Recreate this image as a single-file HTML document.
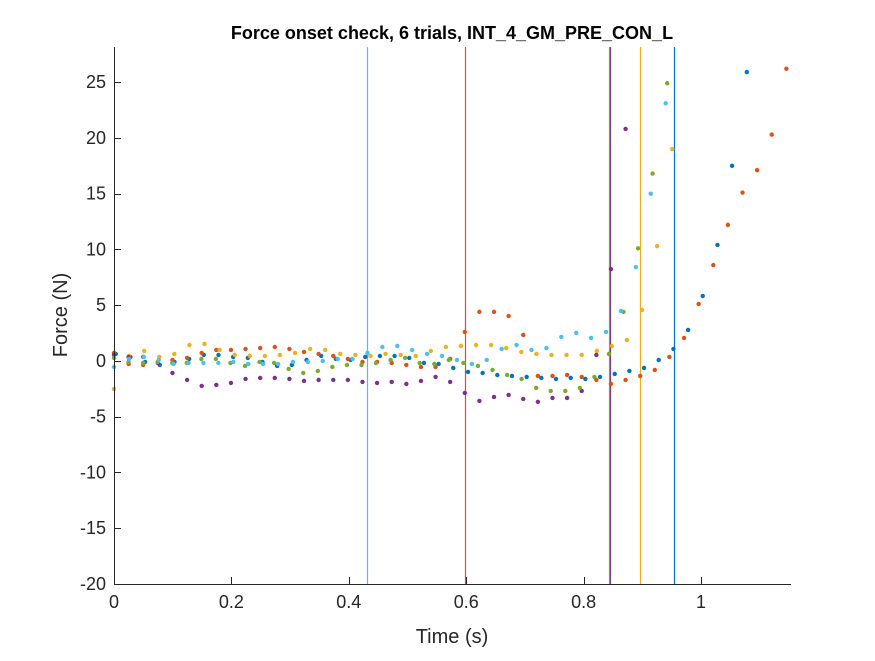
<!DOCTYPE html>
<html><head><meta charset="utf-8"><style>
body{margin:0;background:#fff;}
svg text{font-family:"Liberation Sans",Arial,sans-serif;fill:#262626;}
</style></head><body>
<svg id="chart" width="875" height="656" xmlns="http://www.w3.org/2000/svg">
<rect width="875" height="656" fill="#fff"/>
<text x="452" y="39" text-anchor="middle" font-size="18" font-weight="bold" style="fill:#000">Force onset check, 6 trials, INT_4_GM_PRE_CON_L</text>
<g id="lines"></g><g id="dots"></g><g id="axes"></g>
<text x="452" y="643" text-anchor="middle" font-size="20">Time (s)</text>
<text transform="translate(67,315) rotate(-90)" text-anchor="middle" font-size="20">Force (N)</text>
</svg>
<script>
const xTicks=[0,0.2,0.4,0.6,0.8,1];
const xTickLabels=["0","0.2","0.4","0.6","0.8","1"];
const yTicks=[-20,-15,-10,-5,0,5,10,15,20,25];
const yTickLabels=["-20","-15","-10","-5","0","5","10","15","20","25"];
const seriesNames=["blue","red","yellow","purple","green","cyan"];
const seriesColors=["#0072BD","#D95319","#EDB120","#7E2F8E","#77AC30","#4DBEEE"];
const seriesT0=[0.003,0,0,0,0,0];
const seriesDt=[0.025,0.0249,0.0257,0.0249,0.0248,0.0254];
const blueVals=[0.63,0.36,-0.09,-0.36,-0.09,0.18,0.54,0.54,0.36,0.27,-0.09,-0.45,-0.36,0.09,0.45,0.18,0.09,0.36,0.45,0.45,0.27,-0.18,-0.27,-0.63,-0.99,-1.08,-1.26,-1.34,-1.43,-1.52,-1.61,-1.52,-1.61,-1.43,-1.16,-0.9,-0.63,0.09,1.08,2.78,5.83,10.4,17.5,25.9];
const redVals=[0.72,-0.27,-0.36,-0.09,0.09,0.27,0.72,0.99,0.99,1.08,1.16,1.25,1.08,0.81,0.63,0.45,0.18,-0.09,-0.09,-0.18,-0.36,-0.54,-0.54,0.18,2.6,4.4,4.4,4.03,2.33,-1.34,-1.34,-1.25,-1.43,-1.7,-2.06,-1.7,-1.34,-0.81,0.36,2.06,5.11,8.6,12.2,15.1,17.1,20.3,26.2];
const yellowVals=[-2.51,0.45,0.9,0.36,0.63,1.43,1.52,0.99,0.54,0.45,0.45,0.54,0.72,1.08,0.99,0.63,0.54,0.45,0.63,0.54,0.45,0.9,1.25,1.34,1.43,1.43,1.16,0.81,0.63,0.54,0.54,0.54,0.9,1.34,1.88,4.57,10.3,19.0];
const purpleVals=[0.54,0.36,0.36,-0.18,-1.08,-1.7,-2.24,-2.15,-1.97,-1.61,-1.52,-1.52,-1.61,-1.79,-1.7,-1.7,-1.7,-1.88,-1.97,-1.88,-2.06,-1.79,-1.43,-1.88,-2.87,-3.59,-3.23,-3.05,-3.41,-3.67,-3.32,-3.32,-2.69,0.54,8.24,20.8];
const greenVals=[0.27,-0.09,-0.18,-0.09,-0.18,-0.18,0.18,0.18,-0.18,-0.45,-0.09,-0.18,-0.72,-1.08,-0.9,-0.54,-0.36,-0.36,-0.18,0.09,0.27,-0.18,-0.27,0.09,-0.18,-0.45,-0.81,-1.25,-1.61,-2.42,-2.69,-2.69,-2.42,-1.43,0.63,4.4,10.1,16.8,24.9];
const cyanVals=[-0.54,0.18,0.36,0.09,-0.27,-0.18,-0.18,-0.18,-0.09,-0.27,-0.27,-0.27,-0.09,-0.09,0,0.18,0.18,0.72,1.25,1.34,0.99,0.63,0.45,0.09,-0.27,0.09,1.08,1.43,0.99,1.16,2.15,2.51,2.06,2.6,4.48,8.42,15.0,23.1];
const seriesVals=[blueVals,redVals,yellowVals,purpleVals,greenVals,cyanVals];
const onsetTimes=[0.954,0.598,0.896,0.845,0.843,0.431];
const xMin=0,xMax=1.1533,yMin=-20,yMax=28.15;
const L=114,R=791,T=47,B=584;
const NS="http://www.w3.org/2000/svg";
function sx(v){return L+(v-xMin)/(xMax-xMin)*(R-L);}
function sy(v){return B-(v-yMin)/(yMax-yMin)*(B-T);}
function mk(tag,attrs,parent){const e=document.createElementNS(NS,tag);for(const k in attrs)e.setAttribute(k,attrs[k]);parent.appendChild(e);return e;}
const gL=document.getElementById('lines'),gD=document.getElementById('dots'),gA=document.getElementById('axes');
onsetTimes.forEach((t,i)=>{
  const x=Math.round(sx(t))+0.5;
  const ln=mk('line',{x1:x,x2:x,y1:T,y2:B,stroke:seriesColors[i],'stroke-width':1.2},gL);
  
  
});
seriesVals.forEach((vals,i)=>{
  const g=mk('g',{},gD);
  
  
  vals.forEach((v,k)=>{
    const t=seriesT0[i]+k*seriesDt[i];
    if(t>xMax||v>yMax)return;
    const c=mk('circle',{cx:sx(t),cy:sy(v),r:2.2,fill:seriesColors[i]},g);
    
    
  });
});
const xa=mk('line',{x1:L,x2:R,y1:B+0.5,y2:B+0.5,stroke:'#262626','stroke-width':1},gA);


const ya=mk('line',{x1:L+0.5,x2:L+0.5,y1:T,y2:B,stroke:'#262626','stroke-width':1},gA);


xTicks.forEach((v,i)=>{
  const x=Math.round(sx(v))+0.5;
  const tk=mk('line',{x1:x,x2:x,y1:B,y2:B-7,stroke:'#262626'},gA);
  
  
  const tx=mk('text',{x:sx(v),y:B+24,'text-anchor':'middle','font-size':18},gA);
  tx.textContent=xTickLabels[i];
  
  
});
yTicks.forEach((v,i)=>{
  const y=Math.round(sy(v))+0.5;
  const tk=mk('line',{x1:L,x2:L+7,y1:y,y2:y,stroke:'#262626'},gA);
  
  
  const tx=mk('text',{x:L-8,y:sy(v)+6,'text-anchor':'end','font-size':18},gA);
  tx.textContent=yTickLabels[i];
  
  
});
</script>
</body></html>
